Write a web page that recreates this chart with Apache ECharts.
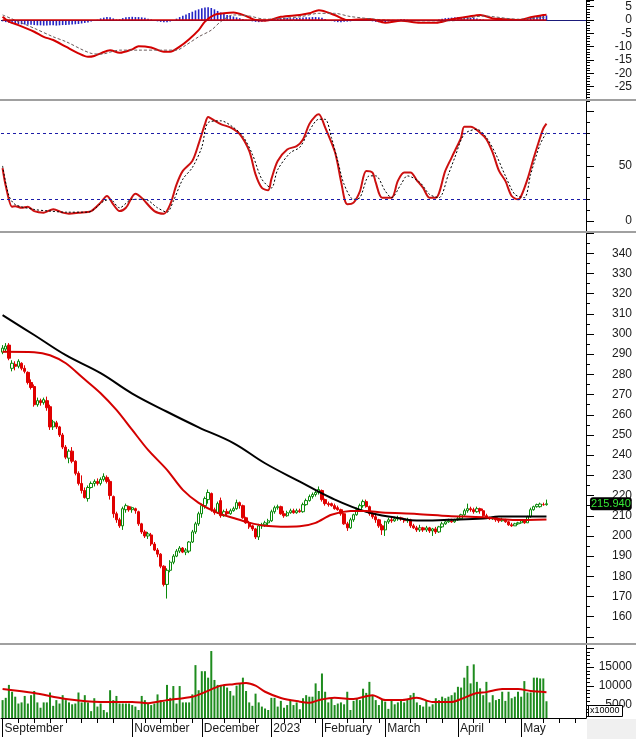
<!DOCTYPE html>
<html>
<head>
<meta charset="utf-8">
<title>Price chart</title>
<script src="https://cdn.jsdelivr.net/npm/echarts@6.0.0/dist/echarts.min.js"></script>
<style>
  html, body { margin: 0; padding: 0; background: #fff; }
  #chart { width: 636px; height: 739px; }
</style>
</head>
<body>
<div id="chart"></div>
<script>
// trading calendar (Vietnam market holidays inside the range)
var holidays = ['2023-01-02', '2023-01-20', '2023-01-23', '2023-01-24', '2023-01-25', '2023-01-26',
    '2023-05-01', '2023-05-02', '2023-05-03'];
var firstDay = '2022-09-05';
var slotCount = 185;

var labeledMonths = ['2022-09', '2022-11', '2022-12', '2023-01', '2023-02', '2023-03', '2023-04', '2023-05'];
var monthNames = ['September', 'November', 'December', '2023', 'February', 'March', 'April', 'May'];

// [open, close, low, high]
var candles = [
    [291, 293, 290, 294.5], [292.5, 294, 291, 295.5], [294.5, 288, 287, 295.5], [283, 285.5, 281.5, 287], [285, 284, 282, 286.5],
    [284, 286.5, 283, 287.5], [285.5, 283, 282, 286], [283, 281.5, 280.5, 284.5], [281, 276, 275, 281.5], [276, 273.5, 272.5, 277.5],
    [274, 265, 264, 275], [265, 267, 264, 268.5], [267, 266, 264.5, 268], [266, 267.5, 265, 268.5], [267, 263.5, 262, 269],
    [264, 254, 252.5, 265], [254, 256.5, 252.5, 257.5], [256, 254, 253, 257], [254, 250, 249, 254.5], [250, 244, 243, 251],
    [244, 239, 238, 245], [238.5, 242, 236, 243], [242, 237, 236, 244], [237, 231, 230, 237.5], [231, 226, 225, 232],
    [226, 222.5, 221, 230], [222.5, 219, 218.5, 224], [218.5, 224, 217, 225], [224, 226, 223.5, 227], [226, 227, 224.5, 228],
    [227, 226, 225, 228.5], [226, 228, 225, 229], [228, 229.5, 227, 231], [229, 227, 226, 230], [227, 220, 218, 228],
    [219.5, 211, 209, 220], [211, 208, 206.5, 212], [208, 205, 204, 209], [205, 213.5, 203, 214.5], [213, 215, 211.5, 216],
    [214.5, 213, 212, 215], [213, 214, 211.5, 214.5], [213.5, 212.5, 211, 214], [212, 206, 205, 212.5], [206, 202, 201, 206.5],
    [202, 200, 199, 203], [200, 201, 198.5, 202], [200.5, 196, 195, 201.5], [196, 193, 192.5, 197], [193, 191, 189.5, 194],
    [191, 185, 184, 191.5], [185, 176, 175, 185.5], [176, 183, 169, 184], [183, 187, 182, 188], [187, 190, 186, 191],
    [190, 192.5, 189.5, 193.5], [192.5, 194, 191.5, 195], [194, 192, 191.5, 194.5], [192, 193, 190.5, 194], [192.5, 197, 191.5, 197.5],
    [197, 202, 196.5, 203], [202, 206, 201, 207], [206, 211, 205, 212], [211, 215, 209, 216], [215, 218.5, 213.5, 219.5],
    [218, 221.5, 216, 223], [221, 213, 212, 221.5], [213, 211.5, 210.5, 214], [211.5, 216, 211, 217], [217.5, 210, 209, 219],
    [210, 212, 209.5, 213], [212, 211, 210, 213.5], [211, 212.5, 210.5, 213.5], [212.5, 213.5, 212, 214.5], [213.5, 216.5, 213, 218],
    [216.5, 215, 213.5, 217], [215, 209, 208.5, 215.5], [209, 206.5, 206, 209.5], [206.5, 204.5, 203.5, 207.5], [205, 203.5, 202.5, 205.5],
    [203.5, 199.5, 198.5, 204], [199.5, 205, 198, 206], [205, 205.5, 203.5, 206.5], [205.5, 206.5, 204.5, 207.5], [206.5, 207.5, 205, 208.5],
    [207.5, 212, 207, 213], [212, 214, 211, 215], [214, 214.5, 213, 215.5], [214.5, 211, 210.5, 215], [211, 210, 209, 212.5],
    [210, 211.5, 209.5, 212.5], [211.5, 212.5, 211, 213.5], [212.5, 211.5, 211, 213.5], [211.5, 212.5, 211, 213.5], [212.5, 212, 211.5, 213.5],
    [212, 215.5, 211.5, 216.5], [215.5, 217.5, 215, 218.5], [217.5, 219.5, 217, 220.5], [219.5, 220.5, 218.5, 221.5], [220.5, 221.5, 219.5, 222.5],
    [221.5, 223, 220.5, 224.5], [222.5, 218, 217, 223], [218, 216, 215, 218.5], [216, 215.5, 214.5, 217], [216, 215, 214.5, 216.5],
    [215, 213.5, 213, 216], [214, 213, 212.5, 215], [213, 211, 210, 213.5], [211, 206, 205.5, 211.5], [206, 204, 202.5, 207],
    [204, 208, 203.5, 209], [208, 210.5, 207, 211], [210.5, 213, 210, 214], [213, 215, 212, 216], [215, 217, 214, 218],
    [217, 214.5, 214, 218], [214.5, 211, 210, 215], [211, 209.5, 208.5, 212], [209.5, 208, 206.5, 210.5], [208, 205, 204, 208.5],
    [205, 203, 200.5, 206], [203, 207, 200, 207.5], [207, 208, 206, 209], [208, 207.5, 206.5, 209.5], [207.5, 208.5, 207, 209.5],
    [208.5, 209, 207.5, 210], [209, 208.5, 207.5, 209.5], [208.5, 207.5, 206.5, 209], [207.5, 208, 206.5, 209], [208, 205, 204, 208.5],
    [205, 204, 203.5, 206], [204, 203, 202, 205], [203, 204, 202, 205.5], [204, 203, 202, 204.5], [203, 204, 202, 205],
    [204, 202.5, 201.5, 204.5], [202.5, 203.5, 200, 204], [203.5, 202, 201, 204.5], [202, 204.5, 201.5, 205], [204.5, 206, 204, 207],
    [206, 207, 205.5, 207.5], [207, 207.5, 206.5, 208.5], [207.5, 207, 206.5, 208.5], [207, 208, 206.5, 208.5], [208, 208.5, 207.5, 209.5],
    [208.5, 210.5, 208, 211], [210.5, 212.5, 210, 213.5], [212.5, 213.5, 211.5, 216], [213.5, 213, 212, 214.5], [213, 212, 211, 214],
    [212, 213.5, 211.5, 214.5], [213.5, 212.5, 211, 214], [212.5, 210, 209.5, 213.5], [210, 209, 208.5, 211], [209, 208.5, 208, 209.5],
    [208.5, 209, 208, 209.5], [209, 208, 207, 209.5], [208, 207.5, 206.5, 208.5], [207.5, 208, 207, 209], [208, 207, 206.5, 208.5],
    [207, 205.5, 205, 207.5], [205.5, 205, 204.5, 206.5], [205, 206, 205, 206.5], [206, 206.5, 205.5, 207], [206.5, 207.5, 206, 208],
    [207.5, 206.5, 206, 208], [206.5, 209.5, 206.5, 210], [209.5, 213, 209, 214], [213, 214.5, 212.5, 215], [214.5, 215.5, 214, 216],
    [214.5, 215.8, 214, 216.5], [215.5, 215.5, 215, 216.5], [215.5, 215.94, 215, 218]
];
var lastClose = 215.94;

// moving averages, read as [day index, value]
var maRed = [[0, 291.2], [10, 291], [15, 289.5], [20, 285.5], [25, 278.8], [31, 270.7], [36, 262.4], [41, 252.5],
    [46, 242.6], [52, 232.7], [57, 222.8], [62, 216.4], [68, 211.4], [73, 208.9], [78, 206.6], [83, 205], [88, 204.6],
    [94, 204.8], [99, 206.5], [104, 210.5], [110, 212.3], [115, 212.4], [120, 211.6], [131, 210.9], [141, 209.9],
    [152, 209.2], [157, 208.4], [162, 207.9], [172, 208.2]];
var maBlack = [[0, 309.3], [10, 299.5], [20, 289.5], [31, 280.6], [41, 270.5], [52, 261.5], [62, 253.8], [73, 246],
    [83, 236], [94, 226.9], [104, 218.8], [115, 212], [125, 208.9], [131, 207.6], [141, 208], [152, 208.6],
    [157, 209.6], [172, 209.6]];

var volume = [
    6300, 6900, 10300, 8500, 7200, 5400, 5700, 7400, 5400, 7600,
    8700, 5700, 4300, 5700, 5700, 8300, 4800, 6300, 5400, 7600,
    6300, 5700, 5200, 5400, 8300, 5700, 7600, 5700, 3400, 6800,
    4600, 5400, 3700, 3100, 8900, 6300, 7400, 5400, 5400, 5400,
    5400, 5000, 4600, 3700, 7400, 6300, 5400, 5000, 5400, 7800,
    6300, 5900, 10300, 6900, 10000, 5400, 10000, 5700, 5700, 5700,
    7800, 15500, 8900, 13900, 13900, 12200, 19200, 11600, 10300, 10100,
    10100, 9600, 8700, 7500, 10100, 10700, 12200, 8700, 5700, 4800,
    8000, 5700, 4600, 4100, 3700, 6900, 6900, 4600, 6100, 4300,
    5000, 6100, 5000, 5700, 3900, 6800, 7600, 7200, 7200, 10700,
    8700,
    13300, 8500, 5700, 6900, 5000, 5400, 5700, 5200, 8500, 3700,
    6100, 6800, 6300, 9300, 8200, 11100, 7600, 6300, 5000, 6600,
    5900, 4000, 6100, 5200, 5700, 6100, 5700, 6600, 7600, 8200,
    5700, 5000, 4600, 6300, 4600, 5200, 6800, 6300, 7200, 6800,
    7200, 7600, 8300, 9800, 9600, 12200, 15300, 10700, 15700, 11100,
    9400, 7600, 11100, 5700, 7600, 6300, 6600, 8500, 6100, 8500,
    6800, 7200, 8500, 7200, 11300, 8300, 8300, 12200, 12200, 12000,
    12000, 6000
];
var volumeMa = [[0, 9200], [10, 8150], [20, 6600], [31, 5800], [41, 5800], [46, 5500], [52, 6300], [60, 7200],
    [64, 8400], [69, 10100], [73, 10500], [77, 10800], [80, 10100], [83, 8500], [88, 6850], [94, 5900], [97, 5600],
    [100, 6300], [105, 6900], [111, 6600], [117, 7600], [121, 6300], [126, 6300], [131, 6900], [136, 5800],
    [142, 5800], [145, 6600], [150, 8150], [153, 8400], [158, 9200], [163, 9200], [167, 8700], [172, 8400]];

var macdLine = [[0, 1.2], [2, -0.6], [5, -1.9], [10, -4.4], [13, -6.3], [16, -7.5], [20, -10], [24, -12.5],
    [27, -13.8], [29, -13.5], [31, -12.5], [34, -11.3], [37, -12.3], [41, -11], [43, -9.8], [47, -10.3],
    [51, -11.9], [53, -11.9], [56, -10], [59, -7.2], [62, -3.8], [64, -0.6], [67, 1.9], [70, 2.5], [73, 2.8],
    [77, 1.5], [80, 0], [83, -0.3], [88, 1.2], [94, 1.9], [97, 2.5], [100, 3.7], [105, 1.9], [109, 0],
    [116, 0.4], [121, -1], [126, -0.3], [132, -1], [137, -1], [142, 0.3], [147, 1.2], [151, 1.9], [155, 0.6],
    [159, 0.3], [163, 0], [167, 1], [171, 1.9], [172, 2]];
var macdSignal = [[0, 1.9], [10, -3.1], [16, -6.3], [20, -8.1], [28, -12.5], [31, -12.8], [37, -11.3], [43, -11.3],
    [50, -11.3], [55, -11.3], [58, -9.4], [62, -6.3], [66, -3.8], [69, -0.6], [73, 1.9], [78, 1.5], [83, 0.3],
    [94, 1.2], [100, 2.5], [105, 2.5], [110, 1.3], [121, 0], [132, -0.3], [142, -0.3], [147, 0.6], [152, 1.5],
    [163, 0.3], [171, 1], [172, 1.1]];
var macdHist = [
    -0.5, -0.8,
    -1.0, -1.2, -1.4, -1.5, -1.6, -1.7, -1.8, -1.8, -1.9,
    -2.0, -2.0, -2.1, -2.1, -2.0, -2.0, -2.1, -2.0, -1.9, -1.9,
    -1.8, -1.7, -1.6, -1.5, -1.3, -1.1, -0.9, -0.6, -0.3, 0.1,
    0.6, 0.9, 1.1, 1.0, 0.6, 0.2, 0.3, 0.7, 1.0, 1.1,
    1.2, 1.1, 1.1, 1.0, 0.8, 0.5, 0.2, -0.2, -0.5, -0.7,
    -0.8, -0.8, -0.6, -0.1, 0.5, 1.1, 1.6, 2.1, 2.6, 3.1,
    3.6, 4.0, 4.4, 4.7, 4.8, 4.5, 4.0, 3.4, 2.8, 2.3,
    1.9, 1.6, 1.3, 1.0, 0.7, 0.4, 0.1, -0.2, -0.5, -0.7,
    -0.8, -0.7, -0.5, -0.2, 0.1, 0.4, 0.6, 0.7, 0.8, 0.8,
    0.7, 0.7, 0.8, 0.8, 0.9, 1.0, 1.0, 1.1, 1.1, 1.0,
    0.8, 0.4, 0.0, -0.4, -0.6, -0.8, -0.8, -0.7, -0.6, -0.5,
    -0.3, -0.1, 0.1, 0.1, 0.0, -0.3, -0.5, -0.7, -0.8, -0.9,
    -0.8, -0.6, -0.4, -0.2, 0.1, 0.3, 0.3, 0.1, -0.2, -0.3,
    -0.3, -0.4, -0.3, -0.3, -0.2, -0.2, -0.1, 0.2, 0.5, 0.7,
    0.8, 0.9, 1.0, 1.1, 1.1, 1.0, 1.0, 0.9, 0.8, 0.6,
    0.4, 0.2, 0.0, -0.2, -0.3, -0.3, -0.4, -0.3, -0.3, -0.2,
    -0.2, -0.1, 0.0, 0.2, 0.4, 0.7, 1.0, 1.2, 1.4, 1.5, 1.6, 1.7
];

var stochK = [[0, 48], [1, 32], [3, 13], [4, 13.5], [6, 12], [8, 13], [10, 9], [13, 7.6], [16, 10.6], [19, 7.6],
    [21, 6.6], [24, 7.5], [28, 9], [31, 16.7], [33, 22.7], [35, 15], [37, 9], [39, 12], [42, 24.8], [44, 21],
    [48, 9], [51, 6.6], [53, 15], [55, 33], [57, 45.5], [60, 54.5], [62, 70], [64, 88], [65, 94.5], [66, 93],
    [69, 88], [72, 85], [75, 79], [78, 63.6], [80, 42.4], [82, 30], [84, 28], [85, 38], [87, 54.5], [90, 65],
    [93, 68], [95, 74], [97, 88], [99, 95.5], [100, 97], [102, 85], [105, 63.6], [106, 51.5], [107, 36.4],
    [109, 15.2], [111, 16.7], [113, 27], [115, 45.5], [117, 44], [118, 35], [120, 21.2], [123, 21.2], [125, 36.4],
    [127, 44], [129, 44], [131, 37], [133, 30], [135, 21.2], [137, 21.2], [140, 45.5], [142, 57.6], [143, 63.6],
    [145, 75.8], [146, 85.5], [148, 85.5], [151, 80.3], [153, 74.2], [155, 62], [157, 45.5], [159, 36.4],
    [161, 22.7], [163, 19.7], [164, 22.7], [166, 38], [168, 57.6], [170, 75.8], [171, 84], [172, 88.5]];
var stochD = [[0, 50], [2, 23], [4, 15], [10, 10.5], [15, 9], [20, 8], [27, 8], [32, 18], [34, 19.7], [37, 12],
    [41, 19.7], [45, 19.7], [49, 12], [52, 8], [54, 18], [57, 38], [60, 48.5], [63, 67], [65, 89.4], [69, 91],
    [73, 85], [76, 77], [79, 60.6], [82, 37.9], [85, 30], [87, 46.6], [91, 62], [94, 67], [97, 82], [100, 92.4],
    [102, 92.4], [104, 75.8], [106, 54.5], [108, 33.3], [111, 19.7], [113, 21.2], [116, 41], [118, 41], [121, 27.3],
    [123, 21.2], [126, 33.3], [128, 41], [132, 35], [135, 24.2], [138, 21.2], [141, 42.4], [143, 57.6], [146, 78.8],
    [150, 83.3], [153, 75.8], [156, 60.6], [159, 41], [162, 24.2], [165, 21.2], [167, 42.4], [170, 69.7], [172, 80.3]];

// axis tick values
var macdLabels = [-25, -20, -15, -10, -5, 0, 5];
var stochLabels = [0, 50];
var stochMajor = [0, 50, 100];
var priceLabels = [160, 170, 180, 190, 200, 210, 220, 230, 240, 250, 260, 270, 280, 290, 300, 310, 320, 330, 340];
var priceMajor = [150, 160, 170, 180, 190, 200, 210, 220, 230, 240, 250, 260, 270, 280, 290, 300, 310, 320, 330, 340, 350];
var priceMinor = [155, 165, 175, 185, 195, 205, 215, 225, 235, 245, 255, 265, 275, 285, 295, 305, 315, 325, 335, 345];
var volLabels = [5000, 10000, 15000];
var volMajor = [5000, 10000, 15000, 20000];
var volMinor = [2000, 3000, 4000, 6000, 7000, 8000, 9000, 11000, 12000, 13000, 14000, 16000, 17000, 18000, 19000, 21000];

var FONT = '"Liberation Sans", Arial, sans-serif';
var LABEL_COLOR = '#1a1a1a';

function tradingDays(start, count) {
    var out = [];
    var d = new Date(start + 'T00:00:00Z');
    while (out.length < count) {
        var s = d.toISOString().slice(0, 10);
        var wd = d.getUTCDay();
        if (wd !== 0 && wd !== 6 && holidays.indexOf(s) < 0) {
            out.push(s);
        }
        d.setUTCDate(d.getUTCDate() + 1);
    }
    return out;
}

var dates = tradingDays(firstDay, slotCount);
var lastIdx = candles.length - 1;

function monthLabel(i) {
    if (i > 0 && dates[i].slice(0, 7) === dates[i - 1].slice(0, 7)) return null;
    var k = labeledMonths.indexOf(dates[i].slice(0, 7));
    return k < 0 ? null : monthNames[k];
}

var monthTicks = [];
var weekTicks = [];
dates.forEach(function (d, i) {
    if (monthLabel(i)) monthTicks.push(i);
});
dates.forEach(function (d, i) {
    if (new Date(d + 'T00:00:00Z').getUTCDay() !== 1) return;
    var near = monthTicks.some(function (m) { return i - m >= -1 && i - m <= 3; });
    if (!near) weekTicks.push(i);
});

function hiddenX(grid) {
    return {
        type: 'category', gridIndex: grid, data: dates, boundaryGap: true,
        axisLine: { show: false }, axisTick: { show: false }, axisLabel: { show: false }, splitLine: { show: false }
    };
}

function labelStyle(values) {
    return {
        show: true, customValues: values, align: 'right', margin: 46,
        color: LABEL_COLOR, fontSize: 12, fontFamily: FONT,
        formatter: function (v) { return String(v); }
    };
}

function tickOnlyAxis(grid, min, max, values, len) {
    return {
        type: 'value', gridIndex: grid, position: 'right', offset: 0, min: min, max: max,
        axisLine: { show: false },
        axisTick: { show: true, customValues: values, length: len, lineStyle: { color: '#000' } },
        axisLabel: { show: false }, splitLine: { show: false }
    };
}

var chart = echarts.init(document.getElementById('chart'), null, { renderer: 'canvas' });

chart.setOption({
    animation: false,
    backgroundColor: '#ffffff',
    grid: [
        { left: 1, right: 50, top: 0, height: 100 },
        { left: 1, right: 50, top: 101, height: 131 },
        { left: 1, right: 50, top: 232, height: 412 },
        { left: 1, right: 50, top: 644, height: 74 }
    ],
    xAxis: [
        hiddenX(0), hiddenX(1), hiddenX(2),
        {
            type: 'category', gridIndex: 3, data: dates, boundaryGap: true, position: 'bottom', offset: 0,
            axisLine: { show: true, onZero: false, lineStyle: { color: '#000', width: 1 } },
            axisTick: {
                show: true, alignWithLabel: true, length: 5, lineStyle: { color: '#000' },
                interval: function (i) { return weekTicks.indexOf(i) >= 0; }
            },
            axisLabel: { show: false }, splitLine: { show: false }
        },
        {
            type: 'category', gridIndex: 3, data: dates, boundaryGap: true, position: 'bottom', offset: 0,
            axisLine: { show: false, onZero: false },
            axisTick: {
                show: true, alignWithLabel: true, length: 19, lineStyle: { color: '#000' },
                interval: function (i) { return monthTicks.indexOf(i) >= 0; }
            },
            axisLabel: {
                show: true, align: 'left', margin: 5, padding: [0, 0, 0, 2],
                color: LABEL_COLOR, fontSize: 12, fontFamily: FONT,
                interval: function (i) { return monthTicks.indexOf(i) >= 0; },
                formatter: function (value, i) { return monthLabel(i) || ''; }
            },
            splitLine: { show: false }
        }
    ],
    yAxis: [
        {
            type: 'value', gridIndex: 0, position: 'right', min: -30, max: 7.5, interval: 5,
            axisLine: { show: true, lineStyle: { color: '#000' } },
            axisTick: { show: true, length: 8, lineStyle: { color: '#000' } },
            minorTick: { show: true, splitNumber: 5, length: 4, lineStyle: { color: '#000' } },
            axisLabel: labelStyle(macdLabels), splitLine: { show: false }
        },
        {
            type: 'value', gridIndex: 1, position: 'right', min: -10, max: 109, interval: 10,
            axisLine: { show: true, lineStyle: { color: '#000' } },
            axisTick: { show: true, length: 4, lineStyle: { color: '#000' } },
            axisLabel: labelStyle(stochLabels), splitLine: { show: false }
        },
        tickOnlyAxis(1, -10, 109, stochMajor, 8),
        {
            type: 'value', gridIndex: 2, position: 'right', min: 146.5, max: 350.5,
            axisLine: { show: true, lineStyle: { color: '#000' } },
            axisTick: { show: true, customValues: priceMajor, length: 8, lineStyle: { color: '#000' } },
            axisLabel: labelStyle(priceLabels), splitLine: { show: false },
            axisPointer: {
                show: true, status: 'show', value: lastClose, snap: false, triggerTooltip: false,
                lineStyle: { opacity: 0 },
                label: {
                    show: true, precision: 3, margin: 4, padding: [1, 1, 1, 1],
                    backgroundColor: '#000', color: '#36e636', fontSize: 11, fontFamily: FONT
                }
            }
        },
        tickOnlyAxis(2, 146.5, 350.5, priceMinor, 4),
        {
            type: 'value', gridIndex: 3, position: 'right', min: 1600, max: 21050,
            axisLine: { show: true, lineStyle: { color: '#000' } },
            axisTick: { show: true, customValues: volMajor, length: 8, lineStyle: { color: '#000' } },
            axisLabel: labelStyle(volLabels), splitLine: { show: false }
        },
        tickOnlyAxis(3, 1600, 21050, volMinor, 4)
    ],
    series: [
        {
            name: 'MACD hist', type: 'bar', xAxisIndex: 0, yAxisIndex: 0, data: macdHist,
            barWidth: 1.6, itemStyle: { color: '#2424c4' }, silent: true
        },
        {
            name: 'MACD', type: 'line', xAxisIndex: 0, yAxisIndex: 0, data: macdLine,
            smooth: 0.3, showSymbol: false, lineStyle: { color: '#d40000', width: 2 },
            markLine: {
                silent: true, symbol: ['none', 'none'], label: { show: false },
                data: [
                    { yAxis: 0, lineStyle: { color: '#1a1a7a', width: 1, type: 'solid' } },
                    [{ coord: [0, 0], lineStyle: { color: '#d40000', width: 1.5, type: 'solid' } }, { coord: [lastIdx, 0] }]
                ]
            }
        },
        {
            name: 'Signal', type: 'line', xAxisIndex: 0, yAxisIndex: 0, data: macdSignal,
            smooth: 0.3, showSymbol: false, lineStyle: { color: '#6a5a5a', width: 1, type: [3, 2] }
        },
        {
            name: '%K', type: 'line', xAxisIndex: 1, yAxisIndex: 1, data: stochK,
            smooth: 0.3, showSymbol: false, lineStyle: { color: '#cc1010', width: 2 },
            markLine: {
                silent: true, symbol: ['none', 'none'], label: { show: false },
                lineStyle: { color: '#1c1ca8', width: 1, type: [3, 3] },
                data: [{ yAxis: 80 }, { yAxis: 20 }]
            }
        },
        {
            name: '%D', type: 'line', xAxisIndex: 1, yAxisIndex: 1, data: stochD,
            smooth: 0.3, showSymbol: false, lineStyle: { color: '#000', width: 1, type: [2, 2] }
        },
        {
            name: 'Price', type: 'candlestick', xAxisIndex: 2, yAxisIndex: 3, data: candles,
            barWidth: 2.8,
            itemStyle: {
                color: '#ffffff', borderColor: '#0a8a0a',
                color0: '#e00000', borderColor0: '#e00000', borderWidth: 1
            }
        },
        {
            name: 'MA black', type: 'line', xAxisIndex: 2, yAxisIndex: 3, data: maBlack,
            smooth: 0.4, showSymbol: false, lineStyle: { color: '#000', width: 2 }
        },
        {
            name: 'MA red', type: 'line', xAxisIndex: 2, yAxisIndex: 3, data: maRed,
            smooth: 0.3, showSymbol: false, lineStyle: { color: '#d40000', width: 2 }
        },
        {
            name: 'Volume', type: 'bar', xAxisIndex: 3, yAxisIndex: 5, data: volume,
            barWidth: 2, itemStyle: { color: '#1e8c1e' }
        },
        {
            name: 'Volume MA', type: 'line', xAxisIndex: 3, yAxisIndex: 5, data: volumeMa,
            smooth: 0.3, showSymbol: false, lineStyle: { color: '#d40000', width: 2 }
        }
    ],
    graphic: [
        { type: 'line', z: 100, shape: { x1: 0, y1: 100, x2: 636, y2: 100 }, style: { stroke: '#a0a0a0', lineWidth: 2 } },
        { type: 'line', z: 100, shape: { x1: 0, y1: 232, x2: 636, y2: 232 }, style: { stroke: '#a0a0a0', lineWidth: 2 } },
        { type: 'line', z: 100, shape: { x1: 0, y1: 644, x2: 636, y2: 644 }, style: { stroke: '#a0a0a0', lineWidth: 2 } },
        { type: 'rect', z: 100, shape: { x: 587, y: 719, width: 49, height: 20 }, style: { fill: '#f0f0f0' } },
        { type: 'rect', z: 100, shape: { x: 588.5, y: 705.5, width: 34, height: 11 }, style: { fill: '#fff', stroke: '#000', lineWidth: 1 } },
        {
            type: 'text', z: 101, x: 590, y: 711,
            style: { text: 'x10000', fontSize: 9, fontFamily: FONT, fill: '#000', verticalAlign: 'middle' }
        }
    ]
});
</script>
</body>
</html>
